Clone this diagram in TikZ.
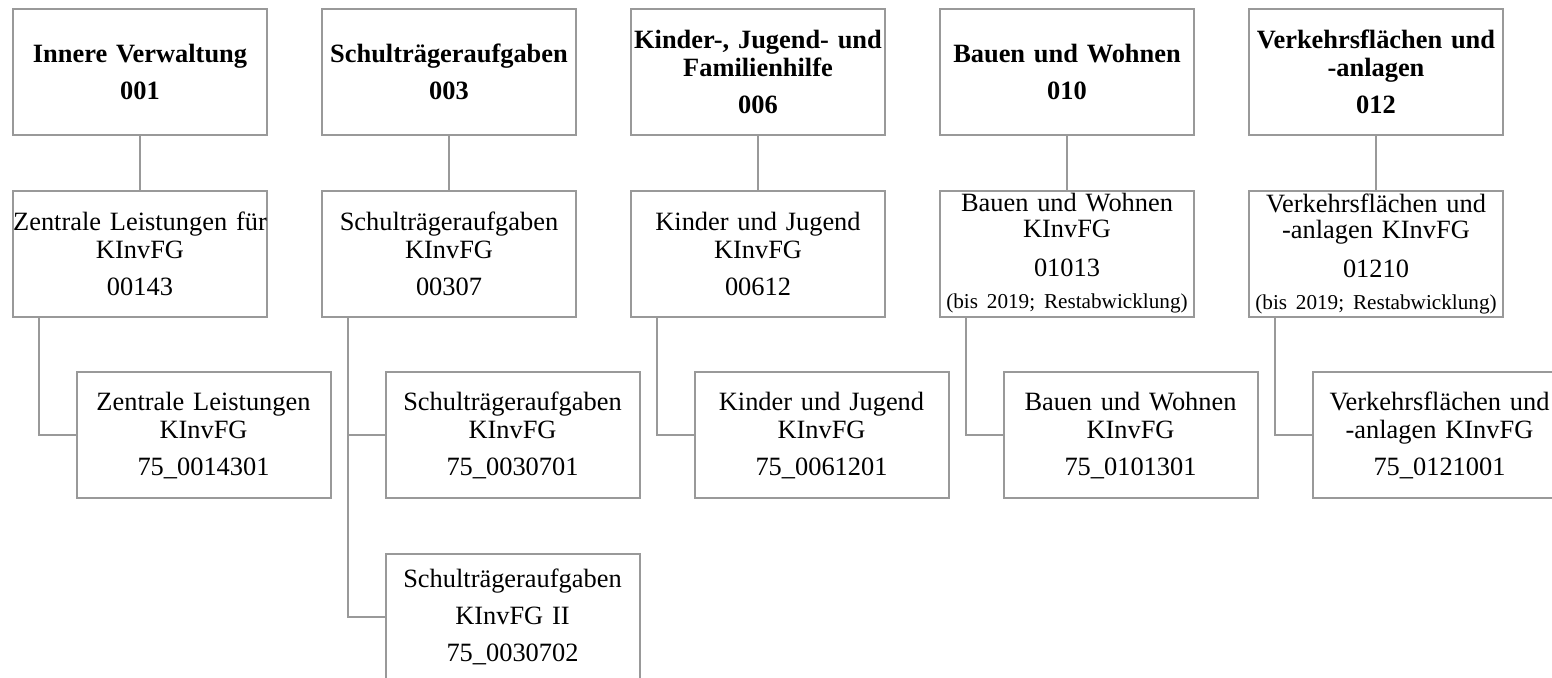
\documentclass[tikz,border=0pt]{standalone}
\usepackage{fontspec}
\setmainfont{Liberation Serif}
\usepackage{xcolor}
\usetikzlibrary{positioning}
\definecolor{rahmengrau}{HTML}{999999}
\tikzset{
  amtbox/.style={
    rectangle,
    draw=rahmengrau,
    line width=1pt,
    minimum width=127pt,
    minimum height=63pt,
    text width=127pt,
    align=center,
    font=\fontsize{13.2pt}{14pt}\selectfont\frenchspacing\bfseries,
    inner xsep=0pt,
    inner ysep=0.5pt,
    outer sep=0pt
  },
  kontobox/.style={
    amtbox,
    font=\fontsize{13.2pt}{14pt}\selectfont\frenchspacing
  },
  astlinie/.style={
    draw=rahmengrau,
    line width=1pt
  }
}
\newcommand{\hinweis}[1]{{\fontsize{10.6pt}{12pt}\selectfont #1}}

\begin{document}
\begin{tikzpicture}[x=0.5pt, y=-0.5pt, node distance=27.8pt and 27.5pt]
  \useasboundingbox (0,0) rectangle (1552,678);
  \clip (0,0) rectangle (1552,678);

  % Produktbereiche
  \node[amtbox] (iv) at (140,72)
    {Innere Verwaltung\\[4.5pt]001};
  \node[amtbox, right=of iv] (sta)
    {Schulträgeraufgaben\\[4.5pt]003};
  \node[amtbox, right=of sta] (kjf)
    {Kinder-, Jugend- und\\Familienhilfe\\[4.5pt]006};
  \node[amtbox, right=of kjf] (bw)
    {Bauen und Wohnen\\[4.5pt]010};
  \node[amtbox, right=of bw] (vf)
    {Verkehrsflächen und\\-anlagen\\[4.5pt]012};

  % Produktgruppen
  \node[kontobox, below=of iv] (ivgr)
    {Zentrale Leistungen für\\KInvFG\\[4.5pt]00143};
  \node[kontobox, below=of sta] (stagr)
    {Schulträgeraufgaben\\KInvFG\\[4.5pt]00307};
  \node[kontobox, below=of kjf] (kjfgr)
    {Kinder und Jugend\\KInvFG\\[4.5pt]00612};
  \node[kontobox, below=of bw] (bwgr)
    {Bauen und Wohnen\\[-1pt]KInvFG\\[5.5pt]01013\\[2pt]\hinweis{(bis 2019; Restabwicklung)}};
  \node[kontobox, below=of vf] (vfgr)
    {Verkehrsflächen und\\[-1pt]-anlagen KInvFG\\[5.5pt]01210\\[2pt]\hinweis{(bis 2019; Restabwicklung)}};

  % Konten
  \node[kontobox, below=of ivgr, xshift=31.75pt] (ivkt)
    {Zentrale Leistungen\\KInvFG\\[4.5pt]75\_0014301};
  \node[kontobox, below=of stagr, xshift=31.75pt] (stakt)
    {Schulträgeraufgaben\\KInvFG\\[4.5pt]75\_0030701};
  \node[kontobox, below=of stakt] (staktzwei)
    {Schulträgeraufgaben\\[4.5pt]KInvFG II\\[4.5pt]75\_0030702};
  \node[kontobox, below=of kjfgr, xshift=31.75pt] (kjfkt)
    {Kinder und Jugend\\KInvFG\\[4.5pt]75\_0061201};
  \node[kontobox, below=of bwgr, xshift=31.75pt] (bwkt)
    {Bauen und Wohnen\\KInvFG\\[4.5pt]75\_0101301};
  \node[kontobox, below=of vfgr, xshift=31.75pt] (vfkt)
    {Verkehrsflächen und\\-anlagen KInvFG\\[4.5pt]75\_0121001};

  \draw[astlinie] (iv.south) -- (ivgr.north);
  \draw[astlinie] (sta.south) -- (stagr.north);
  \draw[astlinie] (kjf.south) -- (kjfgr.north);
  \draw[astlinie] (bw.south) -- (bwgr.north);
  \draw[astlinie] (vf.south) -- (vfgr.north);

  \draw[astlinie] ([xshift=12.75pt]ivgr.south west) |- (ivkt.west);
  \draw[astlinie] ([xshift=12.75pt]stagr.south west) |- (stakt.west);
  \draw[astlinie] ([xshift=12.75pt]stagr.south west) |- (staktzwei.west);
  \draw[astlinie] ([xshift=12.75pt]kjfgr.south west) |- (kjfkt.west);
  \draw[astlinie] ([xshift=12.75pt]bwgr.south west) |- (bwkt.west);
  \draw[astlinie] ([xshift=12.75pt]vfgr.south west) |- (vfkt.west);
\end{tikzpicture}
\end{document}
